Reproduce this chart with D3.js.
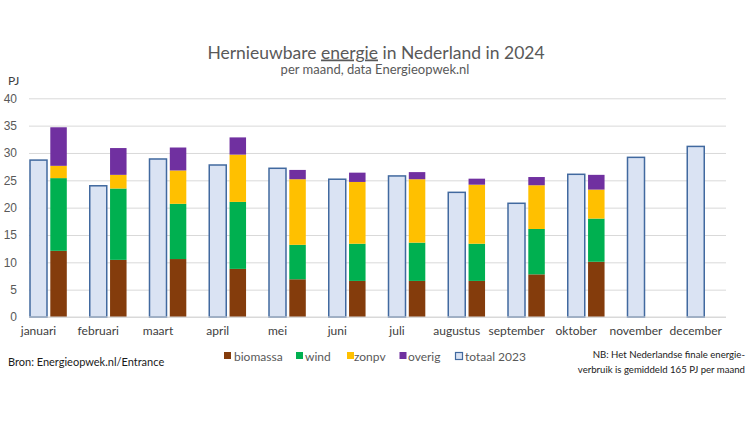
<!DOCTYPE html>
<html><head><meta charset="utf-8">
<script src="https://cdn.jsdelivr.net/npm/d3@7"></script>
<style>
body{margin:0;background:#fff;}
svg{display:block;font-family:Lato,"Open Sans",sans-serif;}
</style></head>
<body><svg id="c" width="752" height="423"></svg>
<script>
const months = ["januari","februari","maart","april","mei","juni","juli","augustus","september","oktober","november","december"];
const biomassa = [12.1, 10.45, 10.6, 8.8, 6.9, 6.6, 6.6, 6.6, 7.8, 10.1];
const wind     = [13.3, 13.05, 10.1, 12.25, 6.3, 6.8, 7.0, 6.8, 8.3, 7.9];
const zonpv    = [2.25, 2.5, 6.1, 8.65, 12.0, 11.3, 11.6, 10.8, 8.0, 5.3];
const overig   = [7.05, 4.9, 4.2, 3.15, 1.7, 1.7, 1.3, 1.1, 1.5, 2.7];
const totaal2023 = [28.7, 24.0, 28.9, 27.8, 27.2, 25.2, 25.8, 22.8, 20.8, 26.1, 29.2, 31.2];
const yTicks = [0,5,10,15,20,25,30,35,40];
const seriesNames = ["biomassa","wind","zonpv","overig"];
const colors = {biomassa:"#843C0C", wind:"#00B050", zonpv:"#FFC000", overig:"#7030A0"};

const svg = d3.select("#c");
const y = d3.scaleLinear().domain([0,40]).range([317,98.3]);
const x = d3.scaleBand().domain(months).range([29, 29+12*59.75]).paddingInner(0);
const gridL = 29, gridR = 726;

// gridlines + tick labels
const yAxis = d3.axisLeft(y).tickValues(yTicks).tickSize(-(gridR-gridL)).tickPadding(12);
const ga = svg.append("g").attr("transform",`translate(${gridL},0)`).call(yAxis);
ga.select(".domain").remove();
ga.selectAll(".tick line").attr("stroke","#D9D9D9").attr("stroke-width",1);
ga.selectAll(".tick text").attr("fill","#595959").style("font-size","12px").attr("x",-12);

// totaal 2023 bars
svg.append("g").selectAll("rect").data(months).join("rect")
  .attr("x", m => x(m)+1)
  .attr("width", 17)
  .attr("y", (m,i) => y(totaal2023[i]))
  .attr("height", (m,i) => y(0)-y(totaal2023[i]))
  .attr("fill","#DAE3F3").attr("stroke","#41699F").attr("stroke-width",1.5);

// stacked 2024
const rows = biomassa.map((b,i)=>({month:months[i], biomassa:b, wind:wind[i], zonpv:zonpv[i], overig:overig[i]}));
const stack = d3.stack().keys(seriesNames)(rows);
svg.append("g").selectAll("g").data(stack).join("g")
  .attr("fill", d => colors[d.key])
  .selectAll("rect").data(d=>d).join("rect")
  .attr("x", d => x(d.data.month)+21.3)
  .attr("width", 16.5)
  .attr("y", d => y(d[1]))
  .attr("height", d => y(d[0])-y(d[1]));

// baseline
svg.append("line").attr("x1",gridL).attr("x2",gridR).attr("y1",y(0)).attr("y2",y(0))
  .attr("stroke","#D9D9D9").attr("stroke-width",1);

// x labels
svg.append("g").selectAll("text").data(months).join("text")
  .attr("x", m => x(m)+9.5).attr("y",335).attr("text-anchor","middle")
  .attr("fill","#404040").style("font-size","12px").text(m=>m);

// title
const t = svg.append("text").attr("x",376).attr("y",58.5).attr("text-anchor","middle")
  .attr("fill","#595959").style("font-size","17.5px");
t.append("tspan").text("Hernieuwbare ");
t.append("tspan").attr("text-decoration","underline").text("energie");
t.append("tspan").text(" in Nederland in 2024");
svg.append("text").attr("x",375).attr("y",73.5).attr("text-anchor","middle")
  .attr("fill","#595959").style("font-size","13px").text("per maand, data Energieopwek.nl");

svg.append("text").attr("x",8).attr("y",85).attr("fill","#404040").style("font-size","12px").text("PJ");

// legend
const legend = [
  {name:"biomassa", x:224, tx:234},
  {name:"wind", x:296, tx:305},
  {name:"zonpv", x:347, tx:354},
  {name:"overig", x:399.5, tx:408},
  {name:"totaal 2023", x:455, tx:465}
];
const lg = svg.append("g");
legend.forEach(l=>{
  if(l.name==="totaal 2023"){
    lg.append("rect").attr("x",l.x+0.5).attr("y",352.5).attr("width",7).attr("height",7)
      .attr("fill","#DAE3F3").attr("stroke","#41699F").attr("stroke-width",1.2);
  } else {
    lg.append("rect").attr("x",l.x).attr("y",352).attr("width",7).attr("height",7).attr("fill",colors[l.name]);
  }
  lg.append("text").attr("x",l.tx).attr("y",360.5).attr("fill","#595959").style("font-size","12px").text(l.name);
});

svg.append("text").attr("x",8).attr("y",366).attr("fill","#1a1a1a").style("font-size","11px")
  .text("Bron: Energieopwek.nl/Entrance");
svg.append("text").attr("x",745).attr("y",358).attr("text-anchor","end").attr("fill","#1a1a1a").style("font-size","9.6px")
  .text("NB: Het Nederlandse finale energie-");
svg.append("text").attr("x",745).attr("y",373).attr("text-anchor","end").attr("fill","#1a1a1a").style("font-size","9.6px")
  .text("verbruik is gemiddeld 165 PJ per maand");
</script></body></html>
